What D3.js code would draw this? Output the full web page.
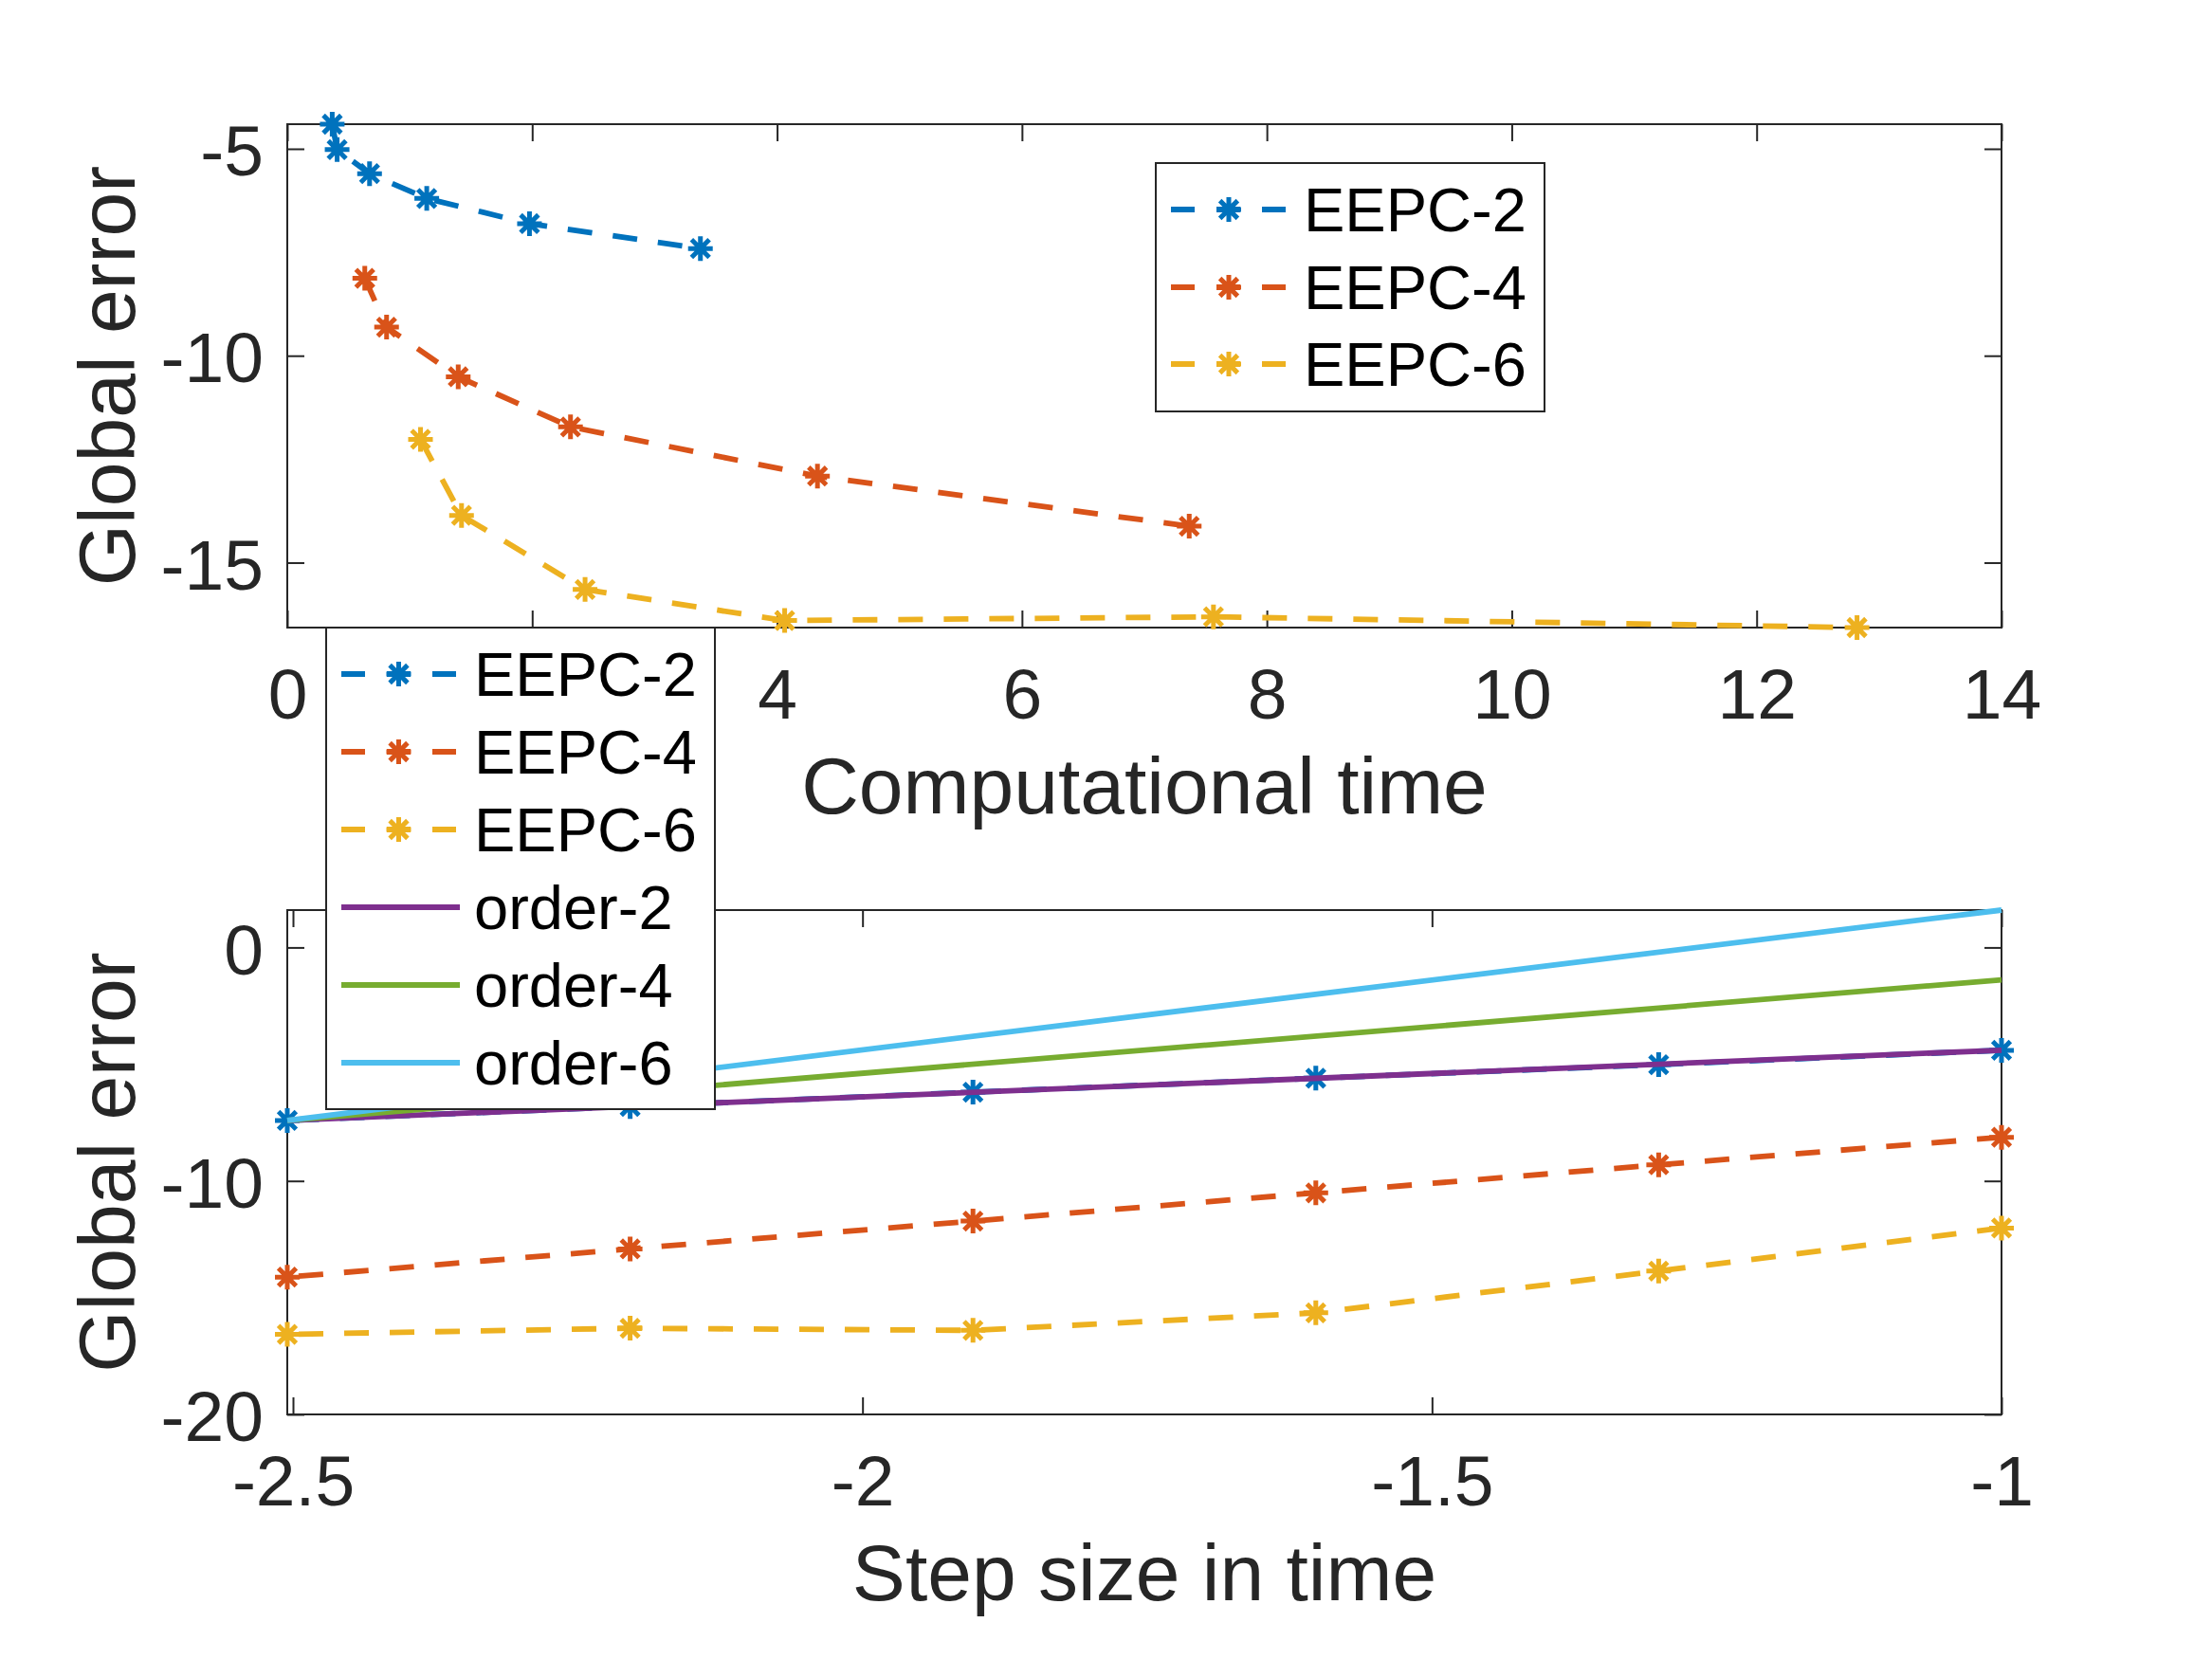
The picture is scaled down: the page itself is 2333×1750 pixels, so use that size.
<!DOCTYPE html>
<html>
  <head>
    <meta charset="utf-8">
    <title>Global error vs time and step size</title>
    <script src="https://d3js.org/d3.v7.min.js"></script>
    <style>
      body { margin: 0; background: #fff; }
      svg { display: block; font-family: "Liberation Sans", Arial, Helvetica, sans-serif; }
      .tick text { font-size: 75px; fill: #262626; }
      .tick line { stroke: #262626; stroke-width: 2; }
      .label { font-size: 84px; fill: #262626; text-anchor: middle; }
      .legend text { font-size: 65px; fill: #000; }
    </style>
  </head>
  <body>
    <svg id="chart" width="2333" height="1750"></svg>
    <script>
      // data
      // top panel: computational time vs log10 global error
      const timeEEPC2 = [0.367, 0.407, 0.672, 1.139, 1.978, 3.374];
      const errEEPC2 = [-4.405, -5.02, -5.60, -6.20, -6.81, -7.41];
      const timeEEPC4 = [0.633, 0.811, 1.396, 2.313, 4.330, 7.366];
      const errEEPC4 = [-8.13, -9.31, -10.51, -11.72, -12.91, -14.12];
      const timeEEPC6 = [1.088, 1.423, 2.432, 4.062, 7.564, 12.82];
      const errEEPC6 = [-12.02, -13.86, -15.65, -16.40, -16.31, -16.57];
      // bottom panel: log10 step size (same errors) and reference slopes
      const logStep = [-1.0, -1.301, -1.602, -1.903, -2.204, -2.505];
      const orderX = [-2.505, -1.0];
      const order2Y = [-7.41, -4.40];
      const order4Y = [-7.41, -1.39];
      const order6Y = [-7.41, 1.60];
      const eepcNames = ["EEPC-2", "EEPC-4", "EEPC-6"];
      const orderNames = ["order-2", "order-4", "order-6"];
      // ticks
      const topXTicks = [0, 2, 4, 6, 8, 10, 12, 14];
      const topYTicks = [-15, -10, -5];
      const botXTicks = [-2.5, -2, -1.5, -1];
      const botYTicks = [-20, -10, 0];

      // styles
      const eepcColors = ["#0072BD", "#D95319", "#EDB120"];
      const orderColors = ["#7E2F8E", "#77AC30", "#4DBEEE"];
      const lineWidth = 5.8;
      const dash = "26,22";
      const tickLen = 18;

      const svg = d3.select("#chart");
      const fmt = function(d) { return String(d); };
      const zip = function(xs, ys) { return xs.map(function(x, i) { return [x, ys[i]]; }); };

      // asterisk marker (MATLAB '*': plus + cross)
      function star(r) {
        const q = r * 0.72;
        return "M" + (-r) + ",0L" + r + ",0M0," + (-r) + "L0," + r +
          "M" + (-q) + "," + (-q) + "L" + q + "," + q +
          "M" + (-q) + "," + q + "L" + q + "," + (-q);
      }

      function drawAxes(box, x, y, xTicks, yTicks, xLabel, yLabel) {
        const g = svg.append("g");
        g.append("rect")
          .attr("x", box.left).attr("y", box.top)
          .attr("width", box.right - box.left).attr("height", box.bottom - box.top)
          .attr("fill", "#fff");
        const xb = g.append("g").attr("transform", "translate(0," + box.bottom + ")")
          .call(d3.axisBottom(x).tickValues(xTicks).tickSize(-tickLen).tickFormat(fmt));
        xb.selectAll("text").attr("y", 96).attr("dy", null);
        g.append("g").attr("transform", "translate(0," + box.top + ")")
          .call(d3.axisTop(x).tickValues(xTicks).tickSize(-tickLen).tickFormat(""));
        const yl = g.append("g").attr("transform", "translate(" + box.left + ",0)")
          .call(d3.axisLeft(y).tickValues(yTicks).tickSize(-tickLen).tickFormat(fmt));
        yl.selectAll("text").attr("x", -25).attr("dy", "0.37em");
        g.append("g").attr("transform", "translate(" + box.right + ",0)")
          .call(d3.axisRight(y).tickValues(yTicks).tickSize(-tickLen).tickFormat(""));
        g.selectAll(".domain").remove();
        g.append("rect")
          .attr("x", box.left).attr("y", box.top)
          .attr("width", box.right - box.left).attr("height", box.bottom - box.top)
          .attr("fill", "none").attr("stroke", "#262626").attr("stroke-width", 2);
        g.append("text").attr("class", "label")
          .attr("x", (box.left + box.right) / 2).attr("y", box.bottom + 196)
          .text(xLabel);
        g.append("text").attr("class", "label")
          .attr("transform", "translate(142," + (box.top + box.bottom) / 2 + ") rotate(-90)")
          .text(yLabel);
        return g;
      }

      function drawSeries(g, pts, x, y, color, dashed, markers) {
        const line = d3.line().x(function(d) { return x(d[0]); }).y(function(d) { return y(d[1]); });
        g.append("path").datum(pts)
          .attr("d", line)
          .attr("fill", "none")
          .attr("stroke", color)
          .attr("stroke-width", lineWidth)
          .attr("stroke-dasharray", dashed ? dash : null);
        if (markers) {
          g.selectAll(null).data(pts).enter().append("path")
            .attr("d", star(13))
            .attr("transform", function(d) { return "translate(" + x(d[0]) + "," + y(d[1]) + ")"; })
            .attr("stroke", color)
            .attr("stroke-width", 5)
            .attr("fill", "none");
        }
      }

      function drawLegend(box, rowY, lineX0, lineX1, textX, names, colors, dashedFlags) {
        const g = svg.append("g").attr("class", "legend");
        g.append("rect")
          .attr("x", box.left).attr("y", box.top)
          .attr("width", box.right - box.left).attr("height", box.bottom - box.top)
          .attr("fill", "#fff").attr("stroke", "#262626").attr("stroke-width", 2);
        names.forEach(function(name, i) {
          const yy = box.top + rowY[i];
          g.append("line")
            .attr("x1", lineX0).attr("x2", dashedFlags[i] ? lineX1 : lineX1 + 4)
            .attr("y1", yy).attr("y2", yy)
            .attr("stroke", colors[i]).attr("stroke-width", lineWidth)
            .attr("stroke-dasharray", dashedFlags[i] ? "25,23" : null);
          if (dashedFlags[i]) {
            g.append("path")
              .attr("d", star(13))
              .attr("transform", "translate(" + (lineX0 + lineX1) / 2 + "," + yy + ")")
              .attr("stroke", colors[i]).attr("stroke-width", 5).attr("fill", "none");
          }
          g.append("text").attr("x", textX).attr("y", yy + 23).text(name);
        });
      }

      // top panel
      const topBox = { left: 303, right: 2111, top: 131, bottom: 662 };
      const xTop = d3.scaleLinear().domain([0, 14]).range([topBox.left, topBox.right]);
      const yTop = d3.scaleLinear()
        .domain(d3.extent(errEEPC2.concat(errEEPC4, errEEPC6)))
        .range([topBox.bottom, topBox.top]);
      const gTop = drawAxes(topBox, xTop, yTop, topXTicks, topYTicks, "Computational time", "Global error");
      [[timeEEPC2, errEEPC2], [timeEEPC4, errEEPC4], [timeEEPC6, errEEPC6]].forEach(function(s, i) {
        drawSeries(gTop, zip(s[0], s[1]), xTop, yTop, eepcColors[i], true, true);
      });

      // bottom panel
      const botBox = { left: 303, right: 2111, top: 960, bottom: 1492 };
      const xBot = d3.scaleLinear().domain(d3.extent(logStep)).range([botBox.left, botBox.right]);
      const yBot = d3.scaleLinear().domain([-20, d3.max(order6Y)]).range([botBox.bottom, botBox.top]);
      const gBot = drawAxes(botBox, xBot, yBot, botXTicks, botYTicks, "Step size in time", "Global error");
      [errEEPC2, errEEPC4, errEEPC6].forEach(function(errs, i) {
        drawSeries(gBot, zip(logStep, errs), xBot, yBot, eepcColors[i], true, true);
      });
      [order2Y, order4Y, order6Y].forEach(function(ys, i) {
        drawSeries(gBot, zip(orderX, ys), xBot, yBot, orderColors[i], false, false);
      });

      // legends
      drawLegend({ left: 1219, right: 1629, top: 172, bottom: 434 }, [49, 131, 212],
        1235, 1357, 1375, eepcNames, eepcColors, [true, true, true]);
      drawLegend({ left: 344, right: 754, top: 662, bottom: 1170 }, [49, 131, 213, 295, 377, 459],
        360, 481, 500, eepcNames.concat(orderNames), eepcColors.concat(orderColors),
        [true, true, true, false, false, false]);
    </script>
  </body>
</html>
